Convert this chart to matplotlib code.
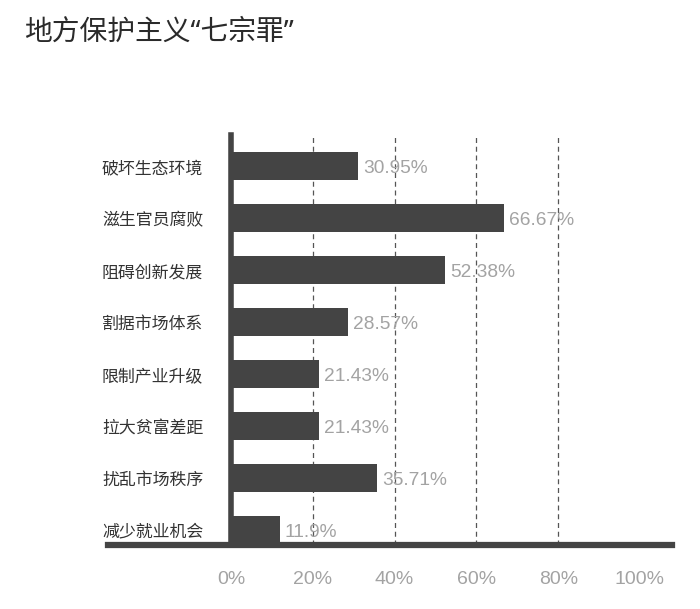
import matplotlib
matplotlib.use("Agg")
import matplotlib.pyplot as plt
from matplotlib.lines import Line2D

plt.rcParams['font.family'] = ['Noto Sans CJK SC', 'DejaVu Sans']

# data
categories = ['破坏生态环境', '滋生官员腐败', '阻碍创新发展', '割据市场体系',
              '限制产业升级', '拉大贫富差距', '扰乱市场秩序', '减少就业机会']
values = [30.95, 66.67, 52.38, 28.57, 21.43, 21.43, 35.71, 11.9]
value_labels = ['30.95%', '66.67%', '52.38%', '28.57%', '21.43%', '21.43%', '35.71%', '11.9%']
xticks = [0, 20, 40, 60, 80, 100]
xtick_labels = ['0%', '20%', '40%', '60%', '80%', '100%']

W, H = 700, 609
fig = plt.figure(figsize=(W / 100, H / 100), dpi=100)

# axes placed in pixel terms: x=0 at 231px, 100 at 638px
left, right, top, bottom = 231, 672, 135, 545
ax = fig.add_axes([left / W, 1 - bottom / H, (right - left) / W, (bottom - top) / H])
px_per_unit = (640 - 231) / 100
ax.set_xlim(0, (right - left) / px_per_unit)
ax.set_ylim(len(categories) - 1 + 0.29, -0.6)

dark = '#444444'
gray = '#a3a3a3'
num_font = ['Liberation Sans', 'DejaVu Sans']

ypos = list(range(len(categories)))
ax.barh(ypos, values, height=0.54, color=dark, zorder=3)

for x in [20, 40, 60, 80]:
    ax.axvline(x, color='#555555', lw=0.9, ls=(0, (4, 3)), zorder=1)

for y, v, lab in zip(ypos, values, value_labels):
    ax.text(v + 1.3, y + 0.05, lab, va='center', ha='left', fontsize=13.8,
            color=gray, family=num_font, zorder=4)

ax.set_yticks(ypos)
ax.set_yticklabels(categories, fontsize=12.2, color='#333333')
ax.set_xticks(xticks)
ax.set_xticklabels(xtick_labels, fontsize=14, color=gray, family=num_font)
ax.tick_params(axis='y', length=0, pad=20)
ax.tick_params(axis='x', length=0, pad=19)

for s in ax.spines.values():
    s.set_visible(False)
ax.spines['left'].set_visible(True)
ax.spines['left'].set_linewidth(4)
ax.spines['left'].set_color(dark)
ax.spines['left'].set_zorder(5)

# bottom baseline extends beyond the axes
fig.add_artist(Line2D([108 / W, 672 / W], [1 - bottom / H, 1 - bottom / H],
                      color=dark, lw=4.5, transform=fig.transFigure, zorder=6))

fig.text(24 / W, 1 - 33 / H, '地方保护主义“七宗罪”', fontsize=20, color='#2a2a2a',
         va='center', ha='left', fontweight='medium',
         family=['Noto Sans', 'Noto Sans CJK SC'])

fig.savefig('out.png', dpi=100)
